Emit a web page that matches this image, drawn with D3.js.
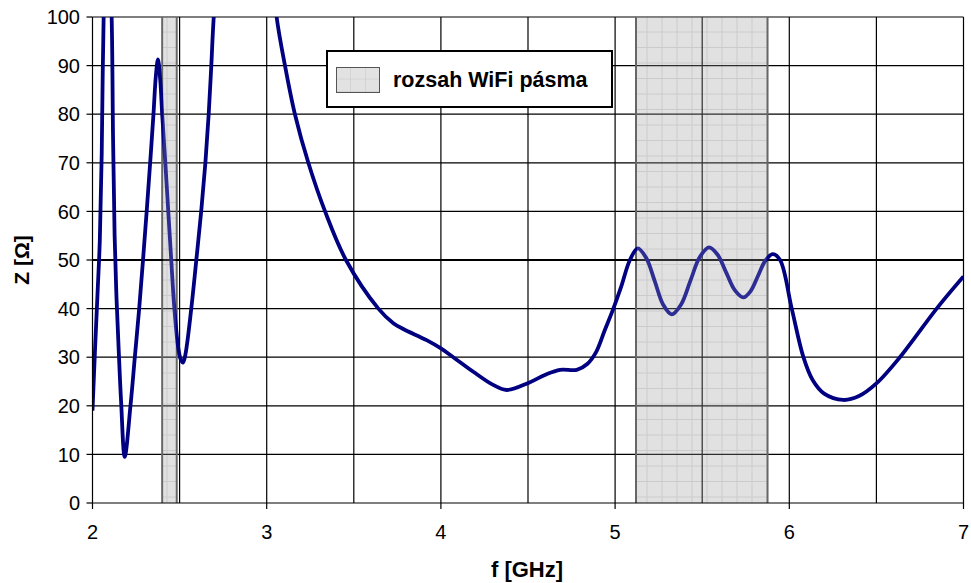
<!DOCTYPE html>
<html><head><meta charset="utf-8">
<script src="https://cdn.jsdelivr.net/npm/d3@7"></script>
<style>
body{margin:0;background:#fff}
text{font-family:Arial,"Liberation Sans",sans-serif;fill:#000}
</style>
</head><body>
<svg id="c" width="971" height="583"></svg>
<script>
// ---- data ----
const freqGHz = [2.000,2.015,2.030,2.042,2.053,2.064,2.087,2.110,2.118,2.127,2.138,2.151,2.164,2.185,2.218,2.243,2.268,2.290,2.311,2.331,2.350,2.364,2.376,2.389,2.400,2.418,2.435,2.452,2.470,2.492,2.507,2.520,2.533,2.567,2.596,2.624,2.648,2.667,2.682,2.696,2.80,2.92,3.020,3.057,3.105,3.162,3.239,3.335,3.455,3.641,3.727,3.784,3.918,4.000,4.071,4.186,4.300,4.378,4.502,4.600,4.684,4.780,4.840,4.890,4.940,4.990,5.035,5.085,5.130,5.179,5.228,5.276,5.325,5.378,5.432,5.486,5.539,5.588,5.638,5.687,5.736,5.778,5.820,5.863,5.905,5.947,6.014,6.081,6.134,6.200,6.310,6.400,6.500,6.635,6.846,7.000];
const impedance = [19,32,44,54,72,100,125,100,75,55,42,31,21,9.5,20,30,40,50,60,70,80,88,91.3,87,80,70,60,50,40,32,29.5,28.9,30.5,40,50,60,70,80,90,100,150,150,115,100,90,80,70,60,50,40,37,35.8,33.5,31.8,30,27,24.3,23.25,24.7,26.4,27.4,27.4,28.6,31,35.5,40,44.5,50,52.4,50.4,45.6,40.8,38.8,40.8,45.7,50.6,52.6,51.1,47.4,43.8,42.3,43.6,46.7,49.9,51.2,50,40,30,25.3,22.5,21.2,22,24.6,30,40,46.6];
const wifiBands = [[2.4, 2.4835], [5.12, 5.875]];
const xTicks = [2,3,4,5,6,7];
const xGrid = [2.5,3,3.5,4,4.5,5,5.5,6,6.5,7];
const yTicks = [0,10,20,30,40,50,60,70,80,90,100];
const refLevel = 50;
const legendLabel = "rozsah WiFi pásma";
const xTitle = "f [GHz]";
const yTitle = "Z [Ω]";

// ---- layout ----
const svg = d3.select("#c");
const L = 92.5, R = 963.5, T = 17, B = 503;
const x = d3.scaleLinear().domain([2,7]).range([L,R]);
const y = d3.scaleLinear().domain([0,100]).range([B,T]);

const defs = svg.append("defs");
const pat = defs.append("pattern").attr("id","hatch").attr("patternUnits","userSpaceOnUse")
  .attr("width",15).attr("height",15.5).attr("x",L).attr("y",T);
pat.append("rect").attr("width",15).attr("height",15.5).attr("fill","#e2e2e2");
pat.append("path").attr("d","M14.5,0V15.5M0,15H15").attr("stroke","#c6c6c6").attr("stroke-width",1).attr("fill","none");
defs.append("clipPath").attr("id","clip").append("rect")
  .attr("x",L).attr("y",T).attr("width",R-L).attr("height",B-T);

// bands
svg.append("g").selectAll("rect").data(wifiBands).join("rect")
  .attr("x",d=>x(d[0])).attr("y",T).attr("width",d=>x(d[1])-x(d[0])).attr("height",B-T)
  .attr("fill","url(#hatch)");

// grid
const grid = svg.append("g").attr("stroke","#000").attr("stroke-width",1.2);
grid.selectAll("line.h").data(yTicks.filter(v=>v>0 && v!==refLevel)).join("line").attr("class","h")
  .attr("x1",L).attr("x2",R).attr("y1",d=>y(d)).attr("y2",d=>y(d));
grid.selectAll("line.v").data(xGrid).join("line").attr("class","v")
  .attr("y1",T).attr("y2",B).attr("x1",d=>x(d)).attr("x2",d=>x(d));

// band borders
svg.append("g").selectAll("path").data(wifiBands).join("path")
  .attr("d",d=>`M${x(d[0])},${T}V${B}M${x(d[1])},${T}V${B}`)
  .attr("stroke","#666").attr("stroke-width",2).attr("fill","none");

// reference line 50
svg.append("line").attr("x1",L).attr("x2",R).attr("y1",y(refLevel)).attr("y2",y(refLevel))
  .attr("stroke","#000").attr("stroke-width",2);

// curve
const pts = freqGHz.map((f,i)=>[f,impedance[i]]);
const line = d3.line().x(d=>x(d[0])).y(d=>y(d[1])).curve(d3.curveCatmullRom.alpha(0.5));
svg.append("path").datum(pts).attr("d",line).attr("clip-path","url(#clip)")
  .attr("fill","none").attr("stroke","#000080").attr("stroke-width",3.8)
  .attr("stroke-linejoin","round");

// translucent overlay of bands
svg.append("g").selectAll("rect").data(wifiBands).join("rect")
  .attr("x",d=>x(d[0])+1).attr("y",T).attr("width",d=>x(d[1])-x(d[0])-2).attr("height",B-T)
  .attr("fill","#e2e2e2").attr("opacity",0.2);

// axes
const axG = svg.append("g").attr("stroke","#000").attr("stroke-width",1.2);
axG.append("line").attr("x1",L).attr("x2",L).attr("y1",T).attr("y2",B);
axG.append("line").attr("x1",L).attr("x2",R).attr("y1",B).attr("y2",B);
axG.selectAll("line.yt").data(yTicks).join("line").attr("class","yt")
  .attr("x1",L-6).attr("x2",L).attr("y1",d=>y(d)).attr("y2",d=>y(d));
axG.selectAll("line.xt").data(xTicks).join("line").attr("class","xt")
  .attr("x1",d=>x(d)).attr("x2",d=>x(d)).attr("y1",B).attr("y2",B+6);

svg.append("g").selectAll("text").data(yTicks).join("text")
  .attr("x",80).attr("y",d=>y(d)).attr("dy","0.36em").attr("text-anchor","end")
  .attr("font-size",20).text(d=>d);
svg.append("g").selectAll("text").data(xTicks).join("text")
  .attr("x",d=>x(d)).attr("y",539).attr("text-anchor","middle")
  .attr("font-size",20).text(d=>d);

svg.append("text").attr("x",527).attr("y",577).attr("text-anchor","middle")
  .attr("font-size",22).attr("font-weight","bold").text(xTitle);
svg.append("text").attr("transform","translate(29,260) rotate(-90)").attr("text-anchor","middle")
  .attr("font-size",21).attr("font-weight","bold").text(yTitle);

// legend
const lg = svg.append("g");
lg.append("rect").attr("x",327).attr("y",51).attr("width",285).attr("height",56)
  .attr("fill","#fff").attr("stroke","#000").attr("stroke-width",2);
const sw = defs.append("pattern").attr("id","hatch2").attr("patternUnits","userSpaceOnUse")
  .attr("width",15).attr("height",12.5).attr("x",336).attr("y",67);
sw.append("rect").attr("width",15).attr("height",12.5).attr("fill","#e2e2e2");
sw.append("path").attr("d","M15,0V12.5M0,12.5H15").attr("stroke","#c6c6c6").attr("fill","none");
lg.append("rect").attr("x",336.5).attr("y",67.5).attr("width",43).attr("height",25)
  .attr("fill","url(#hatch2)").attr("stroke","#555").attr("stroke-width",1);
lg.append("text").attr("x",393).attr("y",87).attr("font-size",21.5).attr("font-weight","bold").text(legendLabel);
</script>
</body></html>
